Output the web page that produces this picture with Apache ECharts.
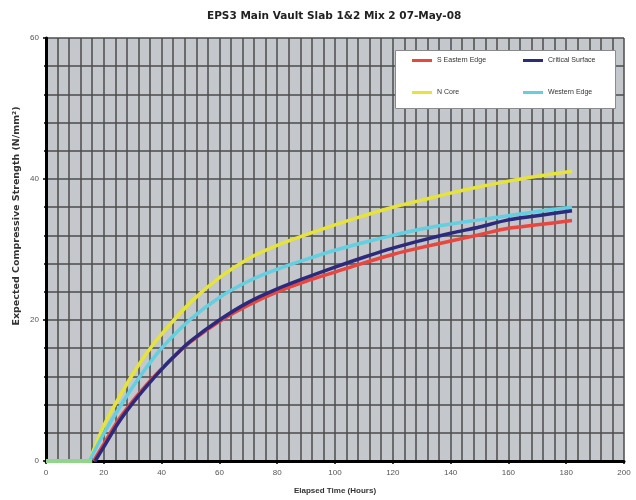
<!DOCTYPE html>
<html>
<head>
<meta charset="utf-8">
<script src="https://cdn.jsdelivr.net/npm/echarts@6/dist/echarts.min.js"></script>
<style>html,body{margin:0;padding:0;background:#fff}#c{width:636px;height:500px}</style>
</head>
<body>
<div id="c"></div>
<script>
var titleText = "EPS3 Main Vault Slab 1&2 Mix 2 07-May-08";
var xName = "Elapsed Time (Hours)";
var yName = "Expected Compressive Strength (N/mm²)";
var seriesNames = ["S Eastern Edge", "Critical Surface", "N Core", "Western Edge"];

var hoursRed    = [16.5, 20, 25, 30, 35, 40, 45, 50, 60, 70, 80, 90, 100, 110, 120, 130, 140, 150, 160, 170, 182];
var redValues   = [0, 2.4, 5.8, 8.5, 10.9, 13.1, 15.1, 16.9, 19.8, 22.1, 24.0, 25.5, 26.8, 28.1, 29.3, 30.3, 31.2, 32.1, 33.0, 33.5, 34.1];

var hoursBlue   = [17, 20, 25, 30, 35, 40, 45, 50, 60, 70, 80, 90, 100, 110, 120, 130, 140, 150, 160, 170, 182];
var blueValues  = [0, 2.0, 5.4, 8.2, 10.7, 13.0, 15.1, 17.0, 20.0, 22.5, 24.4, 26.0, 27.5, 28.9, 30.2, 31.3, 32.3, 33.2, 34.2, 34.8, 35.5];

var hoursYellow = [15, 20, 25, 30, 35, 40, 50, 60, 70, 80, 90, 100, 110, 120, 130, 140, 150, 160, 170, 182];
var yellowValues= [0, 5.0, 8.8, 12.3, 15.4, 18.0, 22.5, 26.0, 28.7, 30.6, 32.1, 33.5, 34.8, 36.0, 37.0, 38.0, 38.9, 39.7, 40.4, 41.1];

var hoursCyan   = [15, 20, 25, 30, 35, 40, 50, 60, 70, 80, 90, 100, 110, 120, 130, 140, 150, 160, 170, 182];
var cyanValues  = [0, 3.9, 7.3, 10.5, 13.4, 16.0, 20.1, 23.2, 25.5, 27.2, 28.6, 29.9, 31.0, 32.0, 32.9, 33.6, 34.2, 34.8, 35.4, 36.0];

var hoursGreen  = [0, 16];
var greenValues = [0, 0];

function pairs(xs, ys){ return xs.map(function(x,i){ return [x, ys[i]]; }); }

var chart = echarts.init(document.getElementById('c'), null, {renderer:'canvas'});
var fontFam = 'Liberation Sans, Arial, sans-serif';
var gridColor = '#4c4c4c';
function legendCol(left, names){
  return {
    data:names, left:left, top:57, orient:'vertical', z:20,
    padding:0, itemGap:25, itemWidth:20, itemHeight:3, icon:'rect',
    textStyle:{fontSize:7, color:'#333', fontFamily:fontFam}
  };
}
function curve(name, xs, ys, color, z){
  return {name:name, type:'line', data:pairs(xs, ys), smooth:0.35, showSymbol:false,
          color:color, lineStyle:{width:3.5, color:color}, z:z};
}
chart.setOption({
  backgroundColor:'#ffffff',
  animation:false,
  title:{text:titleText, left:202, top:6, textStyle:{fontSize:10.5, fontWeight:'bold', color:'#222', fontFamily:'DejaVu Sans'}},
  legend:[legendCol(412, [seriesNames[0], seriesNames[2]]), legendCol(523, [seriesNames[1], seriesNames[3]])],
  graphic:[{
    type:'rect', left:395, top:50, z:15,
    shape:{width:220, height:58},
    style:{fill:'#ffffff', stroke:'#8a8a8a', lineWidth:1}
  },{
    type:'text', x:17, y:216, rotation:Math.PI/2,
    style:{text:yName, fill:'#333', font:'bold 9.5px "DejaVu Sans"', textAlign:'center', textVerticalAlign:'middle'}
  }],
  grid:{left:46, right:12, top:38, bottom:37, show:true, backgroundColor:'#c4c7cb', borderWidth:0},
  xAxis:{
    type:'value', min:0, max:200, interval:20,
    name:xName, nameLocation:'middle', nameGap:26,
    nameTextStyle:{fontSize:8, fontWeight:'bold', color:'#333', fontFamily:fontFam},
    axisLine:{show:true, onZero:false, lineStyle:{color:'#000', width:3}},
    axisTick:{show:true, length:3, lineStyle:{color:'#000', width:1.5}},
    minorTick:{show:true, splitNumber:5, length:2, lineStyle:{color:'#000', width:1.5}},
    axisLabel:{fontSize:8, color:'#555', margin:8, fontFamily:fontFam},
    splitLine:{show:true, lineStyle:{color:gridColor, width:1.5}},
    minorSplitLine:{show:true, lineStyle:{color:gridColor, width:1.5}}
  },
  yAxis:{
    type:'value', min:0, max:60, interval:20,
    axisLine:{show:true, onZero:false, lineStyle:{color:'#000', width:3}},
    axisTick:{show:true, length:3, lineStyle:{color:'#000', width:1.5}},
    minorTick:{show:true, splitNumber:5, length:2, lineStyle:{color:'#000', width:1.5}},
    axisLabel:{fontSize:8, color:'#555', margin:7, fontFamily:fontFam},
    splitLine:{show:true, lineStyle:{color:gridColor, width:1.5}},
    minorSplitLine:{show:true, lineStyle:{color:gridColor, width:1.5}}
  },
  series:[
    curve(seriesNames[0], hoursRed, redValues, '#e8463e', 3),
    curve(seriesNames[1], hoursBlue, blueValues, '#2b2a7c', 4),
    curve(seriesNames[2], hoursYellow, yellowValues, '#e6e33a', 3),
    curve(seriesNames[3], hoursCyan, cyanValues, '#63cfe0', 3),
    {name:'Pre', type:'line', data:pairs(hoursGreen, greenValues), showSymbol:false, color:'#8fd68a', lineStyle:{width:4, color:'#8fd68a'}, z:5}
  ]
});
</script>
</body>
</html>
